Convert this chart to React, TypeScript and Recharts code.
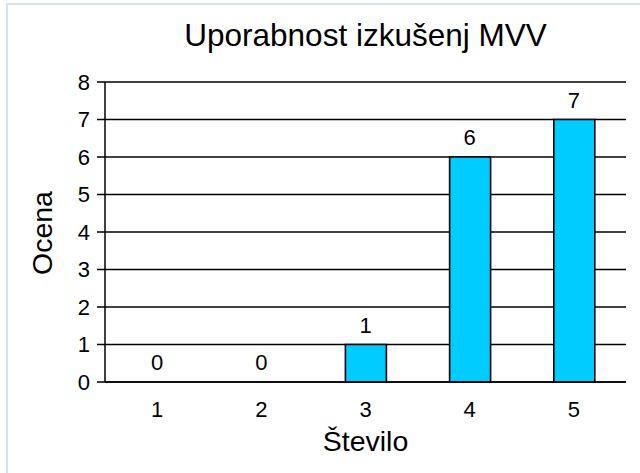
import React from 'react';
import { ComposedChart, Bar, Line, XAxis, YAxis, CartesianGrid, LabelList } from 'recharts';

const categories = [1, 2, 3, 4, 5];
const values = [0, 0, 1, 6, 7];
const yTicks = [0, 1, 2, 3, 4, 5, 6, 7, 8];
const boundaryTicks = [0.5, 1.5, 2.5, 3.5, 4.5, 5.5];
const title = 'Uporabnost izkušenj MVV';
const xTitle = 'Število';
const yTitle = 'Ocena';

const data = categories.map((c, i) => ({ x: c, v: values[i] }));

const FONT = '"Liberation Sans", Arial, sans-serif';

export default function App() {
  return (
    <div
      style={{
        position: 'absolute',
        left: 0,
        top: 0,
        width: 640,
        height: 473,
        background: '#fff',
        fontFamily: FONT,
        overflow: 'hidden',
      }}
    >
      <div
        style={{
          position: 'absolute',
          left: 6,
          top: 3,
          width: 640,
          height: 480,
          borderTop: '2px solid #D5E3ED',
          borderLeft: '2px solid #D5E3ED',
        }}
      />
      <div
        style={{
          position: 'absolute',
          left: 105,
          width: 521,
          top: 16,
          textAlign: 'center',
          fontSize: 31.5,
          lineHeight: '38px',
          color: '#000',
          whiteSpace: 'nowrap',
        }}
      >
        {title}
      </div>
      <div
        style={{
          position: 'absolute',
          left: 105,
          width: 521,
          top: 423,
          textAlign: 'center',
          fontSize: 28.5,
          lineHeight: '36px',
          color: '#000',
        }}
      >
        {xTitle}
      </div>
      <div style={{ position: 'absolute', left: 0, top: 0 }}>
        <ComposedChart
          width={640}
          height={473}
          data={data}
          margin={{ top: 82, right: 14, left: 0, bottom: 40 }}
        >
          <CartesianGrid horizontal={true} vertical={false} stroke="#000" strokeWidth={1.3} />
          <XAxis
            xAxisId={0}
            dataKey="x"
            type="number"
            domain={[0.5, 5.5]}
            ticks={boundaryTicks}
            interval={0}
            tick={false}
            tickSize={8}
            height={1}
            axisLine={{ stroke: '#000', strokeWidth: 1.5 }}
            tickLine={{ stroke: '#000', strokeWidth: 1.5 }}
          />
          <XAxis
            xAxisId="lab"
            dataKey="x"
            type="number"
            domain={[0.5, 5.5]}
            ticks={categories}
            interval={0}
            tickSize={0}
            tickMargin={18}
            height={50}
            axisLine={false}
            tickLine={false}
            tick={{ fill: '#000', fontSize: 22, fontFamily: FONT }}
          />
          <YAxis
            type="number"
            domain={[0, 8]}
            ticks={yTicks}
            interval={0}
            width={105}
            tickSize={8}
            tickMargin={7}
            axisLine={{ stroke: '#000', strokeWidth: 1.5 }}
            tickLine={{ stroke: '#000', strokeWidth: 1.5 }}
            tick={{ fill: '#000', fontSize: 22, fontFamily: FONT }}
            label={{
              content: () => (
                <text
                  x={52}
                  y={233}
                  transform="rotate(-90, 52, 233)"
                  textAnchor="middle"
                  fontSize={28.5}
                  fontFamily={FONT}
                  fill="#000"
                >
                  {yTitle}
                </text>
              ),
            }}
          />
          <Bar
            dataKey="v"
            xAxisId={0}
            barSize={41}
            fill="#00CCFF"
            stroke="#000"
            strokeWidth={1.6}
            isAnimationActive={false}
          />
          <Line
            dataKey="v"
            xAxisId={0}
            stroke="none"
            dot={false}
            activeDot={false}
            isAnimationActive={false}
          >
            <LabelList
              dataKey="v"
              position="top"
              offset={12}
              fill="#000"
              fontSize={22}
              fontFamily={FONT}
            />
          </Line>
        </ComposedChart>
      </div>
    </div>
  );
}
